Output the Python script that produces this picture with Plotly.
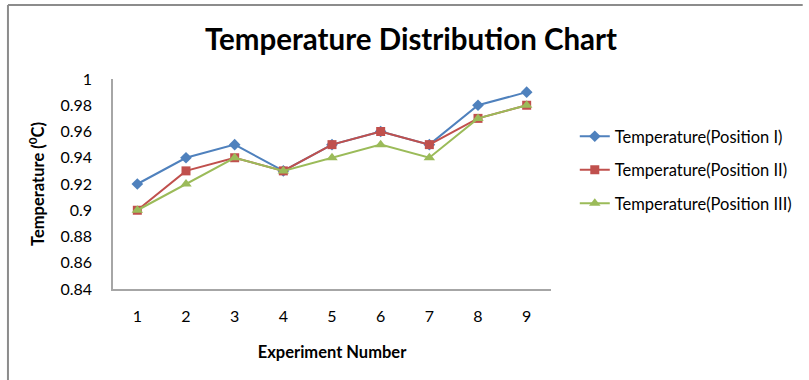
import plotly.graph_objects as go

experiments = [1, 2, 3, 4, 5, 6, 7, 8, 9]
pos1 = [0.92, 0.94, 0.95, 0.93, 0.95, 0.96, 0.95, 0.98, 0.99]
pos2 = [0.90, 0.93, 0.94, 0.93, 0.95, 0.96, 0.95, 0.97, 0.98]
pos3 = [0.90, 0.92, 0.94, 0.93, 0.94, 0.95, 0.94, 0.97, 0.98]
y_ticks = [0.84, 0.86, 0.88, 0.9, 0.92, 0.94, 0.96, 0.98, 1]
y_tick_text = ["0.84", "0.86", "0.88", "0.9", "0.92", "0.94", "0.96", "0.98", "1"]

W, H = 809, 380
L, R, T, B = 113, 254, 79, 91
pw, ph = W - L - R, H - T - B

def px(x):
    return (x - L) / pw

def py(y):
    return (H - B - y) / ph

FONT = "Lato, Calibri, Carlito, sans-serif"

fig = go.Figure()
fig.add_trace(go.Scatter(x=experiments, y=pos1, mode="lines+markers",
                         name="Temperature(Position I)", legendgroup="a",
                         line=dict(color="#4F81BD", width=2),
                         marker=dict(symbol="diamond", size=9, color="#4F81BD")))
fig.add_trace(go.Scatter(x=experiments, y=pos2, mode="lines+markers",
                         name="Temperature(Position II)", legendgroup="b",
                         line=dict(color="#C0504D", width=2),
                         marker=dict(symbol="square", size=9, color="#C0504D")))
fig.add_trace(go.Scatter(x=experiments, y=pos3, mode="lines+markers",
                         name="Temperature(Position III)", legendgroup="c",
                         line=dict(color="#9BBB59", width=2),
                         marker=dict(symbol="triangle-up", size=10, color="#9BBB59")))

fig.update_layout(
    width=W, height=H,
    margin=dict(l=L, r=R, t=T, b=B),
    paper_bgcolor="white", plot_bgcolor="white",
    font=dict(family=FONT, size=16, color="#000000"),
    title=dict(text="<b>Temperature Distribution Chart</b>",
               xref="container", x=411 / W, xanchor="center",
               yref="container", y=1 - 40 / H, yanchor="middle",
               font=dict(family=FONT, size=29.5, color="#000000")),
    xaxis=dict(range=[0.5, 9.5], tickvals=experiments, ticks="", showgrid=False,
               showline=True, linecolor="#A6A6A6", linewidth=1.5, zeroline=False,
               tickfont=dict(size=16), ticklabelstandoff=12,
               title=dict(text="<b>Experiment Number</b>", font=dict(size=16.5), standoff=22)),
    yaxis=dict(range=[0.84, 1.0], tickvals=y_ticks, ticktext=y_tick_text, ticks="",
               showgrid=False, showline=True, linecolor="#A6A6A6", linewidth=1.5,
               zeroline=False, tickfont=dict(size=16), ticklabelstandoff=16,
               title=dict(text="<b>Temperature (<sup>0</sup>C)</b>", font=dict(size=16.5), standoff=12)),
    legend=dict(x=px(579), xanchor="left", y=py(119), yanchor="top",
                font=dict(size=16.5), itemwidth=30, tracegroupgap=9,
                bgcolor="rgba(0,0,0,0)"),
    shapes=[
        dict(type="line", xref="paper", yref="paper",
             x0=px(7), x1=px(809), y0=py(5), y1=py(5),
             line=dict(color="#8C8C8C", width=2)),
        dict(type="line", xref="paper", yref="paper",
             x0=px(7), x1=px(7), y0=py(5), y1=py(380),
             line=dict(color="#8C8C8C", width=2)),
    ],
)

fig.write_html("out.html")
